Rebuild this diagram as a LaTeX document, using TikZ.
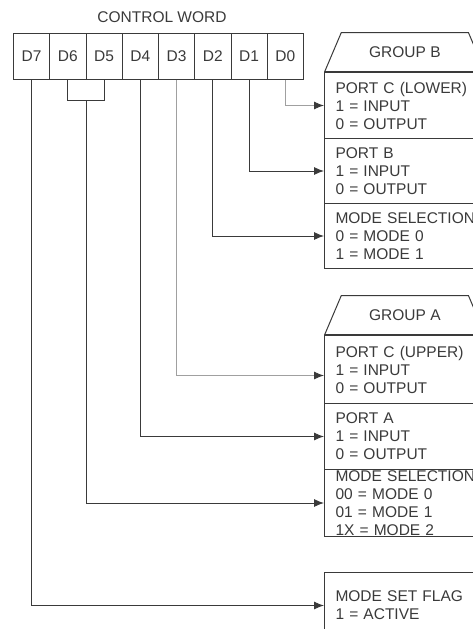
\documentclass[tikz,border=0pt]{standalone}
\usepackage{fontspec}
\setmainfont{Liberation Sans}
\usetikzlibrary{arrows.meta,shapes.geometric,calc}
\definecolor{ink}{HTML}{3A3A3A}
\definecolor{faint}{HTML}{A0A0A0}

\tikzset{
  cell/.style={draw=ink, line width=0.9pt, anchor=north west,
    minimum width=36.25pt, minimum height=46pt, inner sep=0pt},
  portbox/.style={draw=ink, line width=1pt, anchor=north west,
    text width=170pt, align=left, inner xsep=11pt, inner ysep=0pt},
  grouphead/.style={draw=ink, line width=1pt, trapezium, trapezium angle=60,
    trapezium stretches=true, minimum width=161pt, minimum height=39pt,
    anchor=bottom left corner},
  wire/.style={draw=ink, line width=0.9pt, -{Latex[length=10pt,width=8pt,color=ink]}},
  faintwire/.style={wire, draw=faint},
}

\begin{document}
\begin{tikzpicture}[x=1pt,y=-1pt,text=ink,font=\fontsize{15.5}{18}\selectfont]
  \useasboundingbox (0,0) rectangle (473,629);
  \clip (0,0) rectangle (473,629);

  % control word
  \node (title) at (162,17) {CONTROL WORD};
  \foreach \b [count=\i from 0] in {7,6,...,0}
    \node[cell] (d\b) at ({13+36.25*\i},33) {D\b};
  \draw[ink, line width=0.9pt] (d6.south) -- ++(0,21) -| (d5.south);
  \coordinate (d65) at ($(d6.south)!0.5!(d5.south)+(0,21)$);

  % group B
  \node[grouphead] (grpb) at (324,72) {GROUP B};
  \node[portbox, minimum height=66pt] (pcl) at (324,72)
    {PORT C (LOWER)\\1 = INPUT\\0 = OUTPUT};
  \node[portbox, minimum height=65pt] (portb) at (324,138)
    {PORT B\\1 = INPUT\\0 = OUTPUT};
  \node[portbox, minimum height=65pt] (modeb) at (324,203)
    {MODE SELECTION\\0 = MODE 0\\1 = MODE 1};

  % group A
  \node[grouphead] (grpa) at (324,335) {GROUP A};
  \node[portbox, minimum height=68pt] (pcu) at (324,335)
    {PORT C (UPPER)\\1 = INPUT\\0 = OUTPUT};
  \node[portbox, minimum height=66pt] (porta) at (324,403)
    {PORT A\\1 = INPUT\\0 = OUTPUT};
  \node[portbox, minimum height=67pt] (modea) at (324,469)
    {MODE SELECTION\\00 = MODE 0\\01 = MODE 1\\1X = MODE 2};

  \node[portbox, minimum height=66pt] (flag) at (324,572)
    {MODE SET FLAG\\1 = ACTIVE};

  % bit lines
  \draw[faintwire] (d0.south) |- (pcl.west);
  \draw[wire] (d1.south) |- (portb.west);
  \draw[wire] (d2.south) |- (modeb.west);
  \draw[faintwire] (d3.south) |- ([yshift=-6pt]pcu.west);
  \draw[wire] (d4.south) |- (porta.west);
  \draw[wire] (d65) |- (modea.west);
  \draw[wire] (d7.south) |- (flag.west);
\end{tikzpicture}
\end{document}
